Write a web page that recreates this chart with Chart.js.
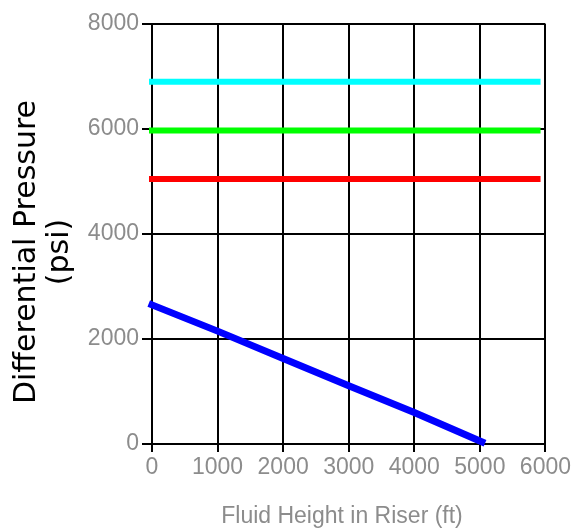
<!DOCTYPE html>
<html>
<head>
<meta charset="utf-8">
<script src="https://cdn.jsdelivr.net/npm/chart.js@4/dist/chart.umd.min.js"></script>
<style>
  html, body { margin: 0; padding: 0; background: #fff; }
  canvas { display: block; }
</style>
</head>
<body>
<canvas id="riserChart" width="573" height="532"></canvas>
<script>
// fluid height in riser (ft) vs differential pressure (psi)
let heights = [0, 1000, 2000, 3000, 4000, 5030];
let pressureDrop = [2650, 2150, 1630, 1110, 600, 40];

let limitX = [0, 5880];
let cyanLimit = [6900, 6900];
let greenLimit = [5970, 5970];
let redLimit = [5050, 5050];

let xTicks = [0, 1000, 2000, 3000, 4000, 5000, 6000];
let yTicks = [0, 2000, 4000, 6000, 8000];

function toPoints(xs, ys) {
    return xs.map((x, i) => ({ x: x, y: ys[i] }));
}

function lineSet(xs, ys, color, width) {
    return {
        data: toPoints(xs, ys),
        borderColor: color,
        borderWidth: width,
        borderCapStyle: "square",
        pointRadius: 0,
        tension: 0,
        clip: false
    };
}

// axis titles, drawn where the original puts them
let axisTitles = {
    id: "axisTitles",
    afterDraw(chart) {
        let ctx = chart.ctx;
        ctx.save();
        ctx.fillStyle = "#000";
        ctx.font = "30px 'DejaVu Sans'";
        ctx.textAlign = "center";
        ctx.textBaseline = "middle";
        ctx.translate(27, 252);
        ctx.rotate(-Math.PI / 2);
        ctx.fillText("Differential Pressure", 0, 0);
        ctx.fillText("(psi)", 0, 33);
        ctx.restore();

        ctx.save();
        ctx.fillStyle = "#8c8c8c";
        ctx.font = "23px 'Liberation Sans'";
        ctx.textAlign = "center";
        ctx.textBaseline = "middle";
        ctx.fillText("Fluid Height in Riser (ft)", 342, 517);
        ctx.restore();
    }
};

let tickFont = { family: "Liberation Sans", size: 23 };

let riserCtx = document.getElementById("riserChart").getContext("2d");

let riserChart = new Chart(riserCtx, {
    type: "line",
    data: {
        datasets: [
            lineSet(limitX, cyanLimit, "#00ffff", 6),
            lineSet(limitX, greenLimit, "#00ff00", 6),
            lineSet(limitX, redLimit, "#ff0000", 6),
            lineSet(heights, pressureDrop, "#0000ff", 7)
        ]
    },
    options: {
        responsive: false,
        animation: false,
        layout: { padding: { top: 24, right: 24, left: 0, bottom: 0 } },
        plugins: {
            legend: { display: false },
            tooltip: { enabled: false }
        },
        scales: {
            x: {
                type: "linear",
                min: 0,
                max: 6000,
                afterFit(scale) { scale.height = 88; },
                afterBuildTicks(scale) { scale.ticks = xTicks.map(v => ({ value: v })); },
                grid: { color: "#000", lineWidth: 2, tickLength: 8, tickColor: "#000", tickWidth: 2 },
                border: { color: "#000", width: 2 },
                ticks: {
                    color: "#8c8c8c",
                    padding: 2,
                    maxRotation: 0,
                    font: tickFont,
                    callback: v => String(v)
                }
            },
            y: {
                type: "linear",
                min: 0,
                max: 8000,
                afterFit(scale) { scale.width = 152; },
                afterBuildTicks(scale) { scale.ticks = yTicks.map(v => ({ value: v })); },
                grid: { color: "#000", lineWidth: 2, tickLength: 10, tickColor: "#000", tickWidth: 2 },
                border: { color: "#000", width: 2 },
                ticks: {
                    color: "#8c8c8c",
                    padding: 3,
                    font: tickFont,
                    callback: v => String(v)
                }
            }
        }
    },
    plugins: [axisTitles]
});
</script>
</body>
</html>
